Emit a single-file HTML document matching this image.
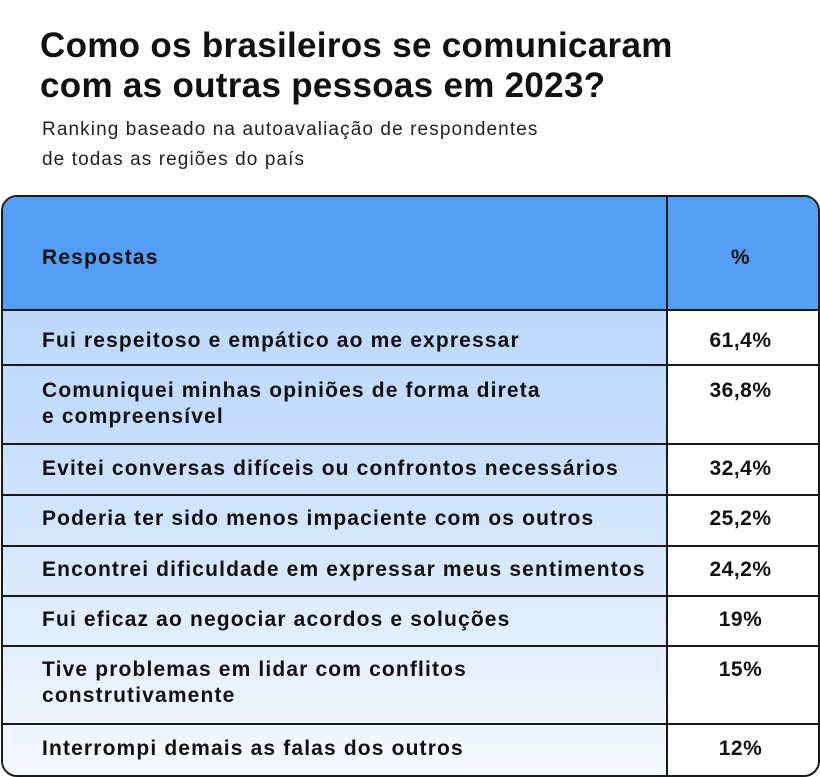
<!DOCTYPE html>
<html><head><meta charset="utf-8"><style>
body{margin:0;width:820px;height:777px;background:#fff;position:relative;overflow:hidden;font-family:"Liberation Sans",sans-serif;color:#111}
.t{position:absolute;left:40px;font-weight:bold;font-size:35px;letter-spacing:0.3px;white-space:nowrap}
.s{position:absolute;left:42px;font-size:19px;letter-spacing:1.1px;white-space:nowrap;color:#222}
.box{position:absolute;left:1px;top:195px;width:815px;height:578px;border:2px solid #1a1a1a;border-radius:16px;overflow:hidden;background:#fff}
.left{position:absolute;left:0;top:0;width:663px;height:100%;background:linear-gradient(#b6d5fb 0%,#c5ddfb 40%,#f5f9fe 100%)}
.hdr{position:absolute;left:0;top:0;width:100%;height:112px;background:#559ef5;border-bottom:2px solid #1a1a1a}
.vl{position:absolute;left:663px;top:0;width:2px;height:100%;background:#1a1a1a}
.hl{position:absolute;left:0;width:100%;height:2px;background:#1a1a1a}
.c{position:absolute;left:39px;font-weight:bold;font-size:21px;letter-spacing:1.15px;line-height:26px;white-space:nowrap}
.p{position:absolute;left:665px;width:145px;text-align:center;font-weight:bold;font-size:21px;letter-spacing:0.5px;line-height:26px}
</style></head><body>
<div class="t" style="top:26px">Como os brasileiros se comunicaram</div>
<div class="t" style="top:66px">com as outras pessoas em 2023?</div>
<div class="s" style="top:119px">Ranking baseado na autoavaliação de respondentes</div>
<div class="s" style="top:149px">de todas as regiões do país</div>
<div class="box">
<div class="left"></div>
<div class="hdr"></div>
<div class="vl"></div>
<div class="hl" style="top:167px"></div>
<div class="hl" style="top:246px"></div>
<div class="hl" style="top:297px"></div>
<div class="hl" style="top:348px"></div>
<div class="hl" style="top:398px"></div>
<div class="hl" style="top:448px"></div>
<div class="hl" style="top:526px"></div>
<div class="c" style="top:48px">Respostas</div>
<div class="p" style="top:48px">%</div>
<div class="c" style="top:131px">Fui respeitoso e empático ao me expressar</div>
<div class="p" style="top:131px">61,4%</div>
<div class="c" style="top:181px">Comuniquei minhas opiniões de forma direta<br>e compreensível</div>
<div class="p" style="top:181px">36,8%</div>
<div class="c" style="top:259px">Evitei conversas difíceis ou confrontos necessários</div>
<div class="p" style="top:259px">32,4%</div>
<div class="c" style="top:309px">Poderia ter sido menos impaciente com os outros</div>
<div class="p" style="top:309px">25,2%</div>
<div class="c" style="top:360px">Encontrei dificuldade em expressar meus sentimentos</div>
<div class="p" style="top:360px">24,2%</div>
<div class="c" style="top:410px">Fui eficaz ao negociar acordos e soluções</div>
<div class="p" style="top:410px">19%</div>
<div class="c" style="top:460px">Tive problemas em lidar com conflitos<br>construtivamente</div>
<div class="p" style="top:460px">15%</div>
<div class="c" style="top:539px">Interrompi demais as falas dos outros</div>
<div class="p" style="top:539px">12%</div>
</div>
</body></html>
